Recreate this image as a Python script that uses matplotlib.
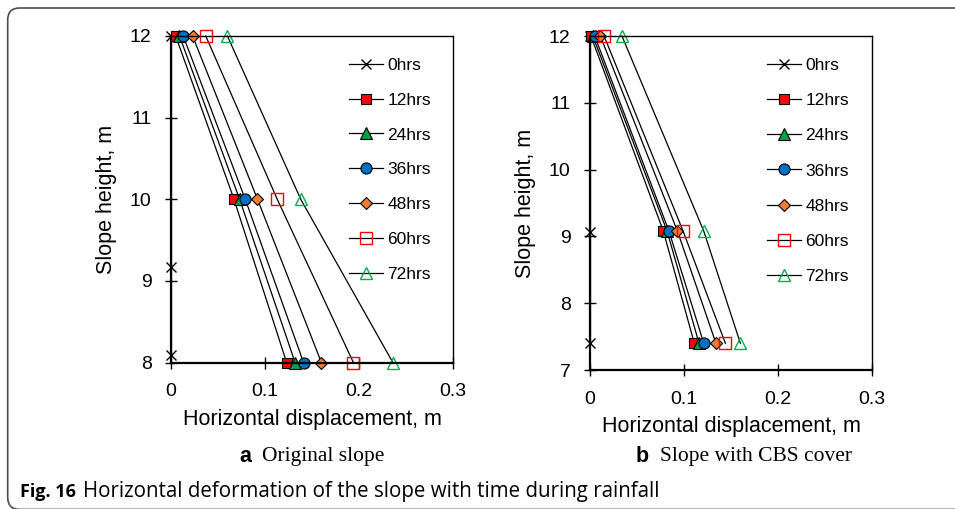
import matplotlib
matplotlib.use('Agg')
import matplotlib.pyplot as plt
from matplotlib.patches import FancyBboxPatch

plt.rcParams['font.family'] = ['Liberation Sans', 'DejaVu Sans']

# series labels and marker styles
labels = ['0hrs', '12hrs', '24hrs', '36hrs', '48hrs', '60hrs', '72hrs']

# (a) original slope
heights_a = [12, 10, 8]
zero_heights_a = [12, 9.17, 8.09]
disp_a = {
    '0hrs': [0, 0, 0],
    '12hrs': [0.005, 0.067, 0.123],
    '24hrs': [0.009, 0.073, 0.132],
    '36hrs': [0.013, 0.079, 0.141],
    '48hrs': [0.023, 0.092, 0.160],
    '60hrs': [0.037, 0.113, 0.194],
    '72hrs': [0.060, 0.138, 0.236],
}

# (b) slope with CBS cover
heights_b = [12, 9.08, 7.4]
zero_heights_b = [12, 9.06, 7.4]
disp_b = {
    '0hrs': [0, 0, 0],
    '12hrs': [0.001, 0.078, 0.111],
    '24hrs': [0.003, 0.082, 0.116],
    '36hrs': [0.005, 0.084, 0.121],
    '48hrs': [0.011, 0.093, 0.134],
    '60hrs': [0.015, 0.099, 0.144],
    '72hrs': [0.034, 0.121, 0.160],
}

styles = {
    '0hrs': dict(marker='x', ms=7, mfc='black', mec='black', mew=1.0),
    '12hrs': dict(marker='s', ms=7.5, mfc='#FF0000', mec='black', mew=0.8),
    '24hrs': dict(marker='^', ms=8, mfc='#00A04A', mec='black', mew=0.8),
    '36hrs': dict(marker='o', ms=8, mfc='#0070C0', mec='black', mew=0.8),
    '48hrs': dict(marker='D', ms=6, mfc='#ED7D31', mec='black', mew=0.8),
    '60hrs': dict(marker='s', ms=8, mfc='none', mec='#FF0000', mew=1.0),
    '72hrs': dict(marker='^', ms=8.5, mfc='none', mec='#00B050', mew=1.0),
}


def draw_panel(ax, heights, zero_heights, disp, ylim, yticks, legend_anchor, spacing):
    for name in labels:
        ys = zero_heights if name == '0hrs' else heights
        ax.plot(disp[name], ys, color='black', lw=0.9, label=name,
                clip_on=False, **styles[name])
    ax.set_xlim(0, 0.3)
    ax.set_ylim(*ylim)
    ax.set_xticks([0, 0.1, 0.2, 0.3])
    ax.set_xticklabels(['0', '0.1', '0.2', '0.3'])
    ax.set_yticks(yticks)
    ax.tick_params(axis='both', direction='inout', length=8, width=1.0,
                   labelsize=14, color='black')
    ax.tick_params(axis='x', pad=11)
    ax.tick_params(axis='y', pad=10)
    for side in ['left', 'bottom']:
        ax.spines[side].set_linewidth(1.6)
    for side in ['top', 'right']:
        ax.spines[side].set_linewidth(1.0)
    ax.set_xlabel('Horizontal displacement, m', fontsize=15.5, labelpad=6)
    ax.set_ylabel('Slope height, m', fontsize=15.5, labelpad=9)
    ax.legend(loc='upper left', bbox_to_anchor=legend_anchor, frameon=False,
              fontsize=12.5, handlelength=1.95, handletextpad=0.25,
              labelspacing=spacing, borderpad=0, borderaxespad=0)


fig = plt.figure(figsize=(9.55, 5.09), dpi=100)

ax_a = fig.add_axes([171 / 955, 1 - 362.5 / 509, 282 / 955, 326.5 / 509])
draw_panel(ax_a, heights_a, zero_heights_a, disp_a, (8, 12), [8, 9, 10, 11, 12],
           (0.631, 0.933), 1.13)

ax_b = fig.add_axes([590 / 955, 1 - 370 / 509, 282 / 955, 334 / 509])
draw_panel(ax_b, heights_b, zero_heights_b, disp_b, (7, 12), [7, 8, 9, 10, 11, 12],
           (0.628, 0.934), 1.15)

# sub captions
fig.text(251 / 955, 1 - 457 / 509, 'a', fontsize=15.5, fontweight='bold',
         ha='right', va='center')
fig.text(262 / 955, 1 - 457 / 509, 'Original slope', fontsize=15.5,
         family='Liberation Serif', ha='left', va='center')
fig.text(649 / 955, 1 - 457 / 509, 'b', fontsize=15.5, fontweight='bold',
         ha='right', va='center')
fig.text(660 / 955, 1 - 457 / 509, 'Slope with CBS cover', fontsize=15.5,
         family='Liberation Serif', ha='left', va='center')

# figure caption
fig.text(20 / 955, 1 - 492 / 509, 'Fig. 16', fontsize=13, fontweight='bold',
         family='Open Sans', ha='left', va='center')
fig.text(83 / 955, 1 - 492 / 509,
         'Horizontal deformation of the slope with time during rainfall',
         fontsize=14.8, family='Open Sans', ha='left', va='center')

# rounded frame around the figure
frame = FancyBboxPatch((0.077, -0.004), 10.0, 5.09 - 0.08 + 0.004,
                       boxstyle='round,pad=0,rounding_size=0.12',
                       transform=fig.dpi_scale_trans, fill=False,
                       edgecolor='#4d4d4d', lw=1.2, clip_on=False)
fig.patches.append(frame)

fig.savefig('out.png', dpi=100)
